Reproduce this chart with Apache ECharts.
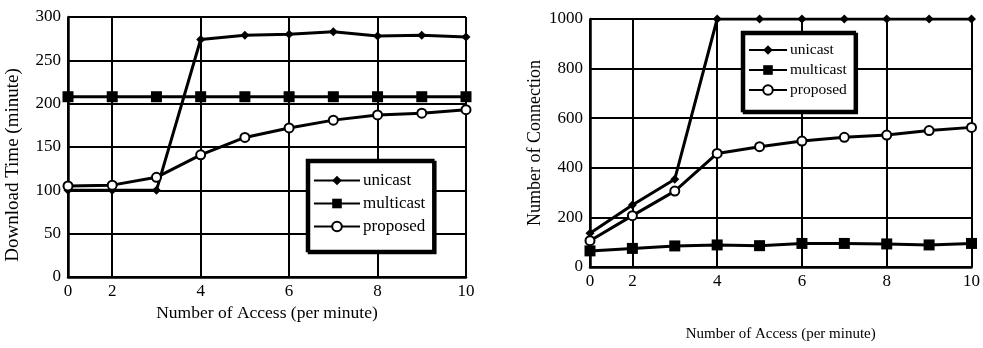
<!DOCTYPE html>
<html>
<head>
<meta charset="utf-8">
<script src="https://cdn.jsdelivr.net/npm/echarts@6/dist/echarts.min.js"></script>
<style>
  html, body { margin: 0; padding: 0; background: #fff; }
  #chart { width: 983px; height: 348px; }
</style>
</head>
<body>
<div id="chart"></div>
<script>
// x categories (the first two are labelled 0 and 2, then every unit)
const accessCats = ['0', '2', '3', '4', '5', '6', '7', '8', '9', '10'];
const shownIdx = [0, 1, 3, 5, 7, 9];

// left: download time (minute)
const timeUnicast = [100, 100, 100, 274, 279, 280, 283, 278, 279, 277];
const timeMulticast = [208, 208, 208, 208, 208, 208, 208, 208, 208, 208];
const timeProposed = [105, 106, 115, 141, 161, 172, 181, 187, 189, 193];

// right: number of connection
const connUnicast = [136, 250, 354, 1000, 1000, 1000, 1000, 1000, 1000, 1000];
const connMulticast = [65, 75, 85, 89, 86, 95, 95, 93, 89, 95];
const connProposed = [106, 207, 306, 458, 485, 508, 523, 532, 550, 563];

const seriesNames = ['unicast', 'multicast', 'proposed'];
const FONT = 'Liberation Serif';

const chart = echarts.init(document.getElementById('chart'));

const showIdx = idx => shownIdx.indexOf(idx) >= 0;

function xAxisFor(gridIndex, nameGap, nameSize) {
  return {
    type: 'category',
    gridIndex: gridIndex,
    data: accessCats,
    boundaryGap: false,
    name: 'Number of Access (per minute)',
    nameLocation: 'middle',
    nameGap: nameGap,
    nameTextStyle: { color: '#000', fontFamily: FONT, fontSize: nameSize },
    axisLine: { lineStyle: { color: '#000', width: 2.5 } },
    axisTick: { show: false },
    axisLabel: {
      interval: showIdx,
      color: '#000', fontFamily: FONT, fontSize: 17, margin: 6,
    },
    splitLine: {
      show: true,
      interval: showIdx,
      lineStyle: { color: '#000', width: 2 },
    },
  };
}

function yAxisFor(gridIndex, name, max, interval, nameGap, nameSize, namePad) {
  return {
    type: 'value',
    gridIndex: gridIndex,
    min: 0,
    max: max,
    interval: interval,
    name: name,
    nameLocation: 'middle',
    nameGap: nameGap,
    nameTextStyle: { color: '#000', fontFamily: FONT, fontSize: nameSize, padding: namePad },
    axisLine: { show: true, lineStyle: { color: '#000', width: 2.5 } },
    axisTick: { show: false },
    axisLabel: {
      color: '#000', fontFamily: FONT, fontSize: 17, margin: 7,
      formatter: v => String(v),
    },
    splitLine: { show: true, lineStyle: { color: '#000', width: 2 } },
  };
}

function lineSeries(name, data, idx, symbol, size) {
  return {
    name: name,
    type: 'line',
    xAxisIndex: idx,
    yAxisIndex: idx,
    data: data,
    symbol: symbol,
    symbolSize: size,
    showSymbol: true,
    lineStyle: { color: '#000', width: 3 },
    itemStyle: symbol === 'circle'
      ? { color: '#fff', borderColor: '#000', borderWidth: 2 }
      : { color: '#000', borderColor: '#000', borderWidth: 0 },
    emphasis: { disabled: true },
    animation: false,
  };
}

function legendFor(left, top, itemWidth, fontSize, gap, padding) {
  return {
    data: seriesNames.map(n => ({ name: n })),
    orient: 'vertical',
    left: left,
    top: top,
    itemWidth: itemWidth,
    itemHeight: 12,
    itemGap: gap,
    padding: padding,
    backgroundColor: '#fff',
    borderColor: '#000',
    borderWidth: 2.5,
    shadowColor: '#000',
    shadowBlur: 0,
    shadowOffsetX: 2,
    shadowOffsetY: 2,
    selectedMode: false,
    textStyle: { color: '#000', fontFamily: FONT, fontSize: fontSize, padding: [0, 0, 0, -2] },
  };
}

chart.setOption({
  backgroundColor: '#fff',
  animation: false,
  grid: [
    { left: 68, right: 517, top: 17, bottom: 71 },
    { left: 590, right: 7, top: 19, bottom: 81 },
  ],
  xAxis: [xAxisFor(0, 19, 17.5), xAxisFor(1, 60, 15)],
  yAxis: [
    yAxisFor(0, 'Download Time (minute)', 300, 50, 45, 19, [0, 36, 0, 0]),
    yAxisFor(1, 'Number of Connection', 1000, 200, 46, 18, [0, 0, 0, 0]),
  ],
  legend: [
    legendFor(307, 160, 46, 17, 6, [12, 8, 16, 6]),
    legendFor(742, 32, 38, 15.5, 4, [10, 8, 13, 6]),
  ],
  series: [
    lineSeries('unicast', timeUnicast, 0, 'diamond', 9),
    lineSeries('multicast', timeMulticast, 0, 'rect', 11),
    lineSeries('proposed', timeProposed, 0, 'circle', 9),
    lineSeries('unicast', connUnicast, 1, 'diamond', 9),
    lineSeries('multicast', connMulticast, 1, 'rect', 11),
    lineSeries('proposed', connProposed, 1, 'circle', 9),
  ],
});
</script>
</body>
</html>
